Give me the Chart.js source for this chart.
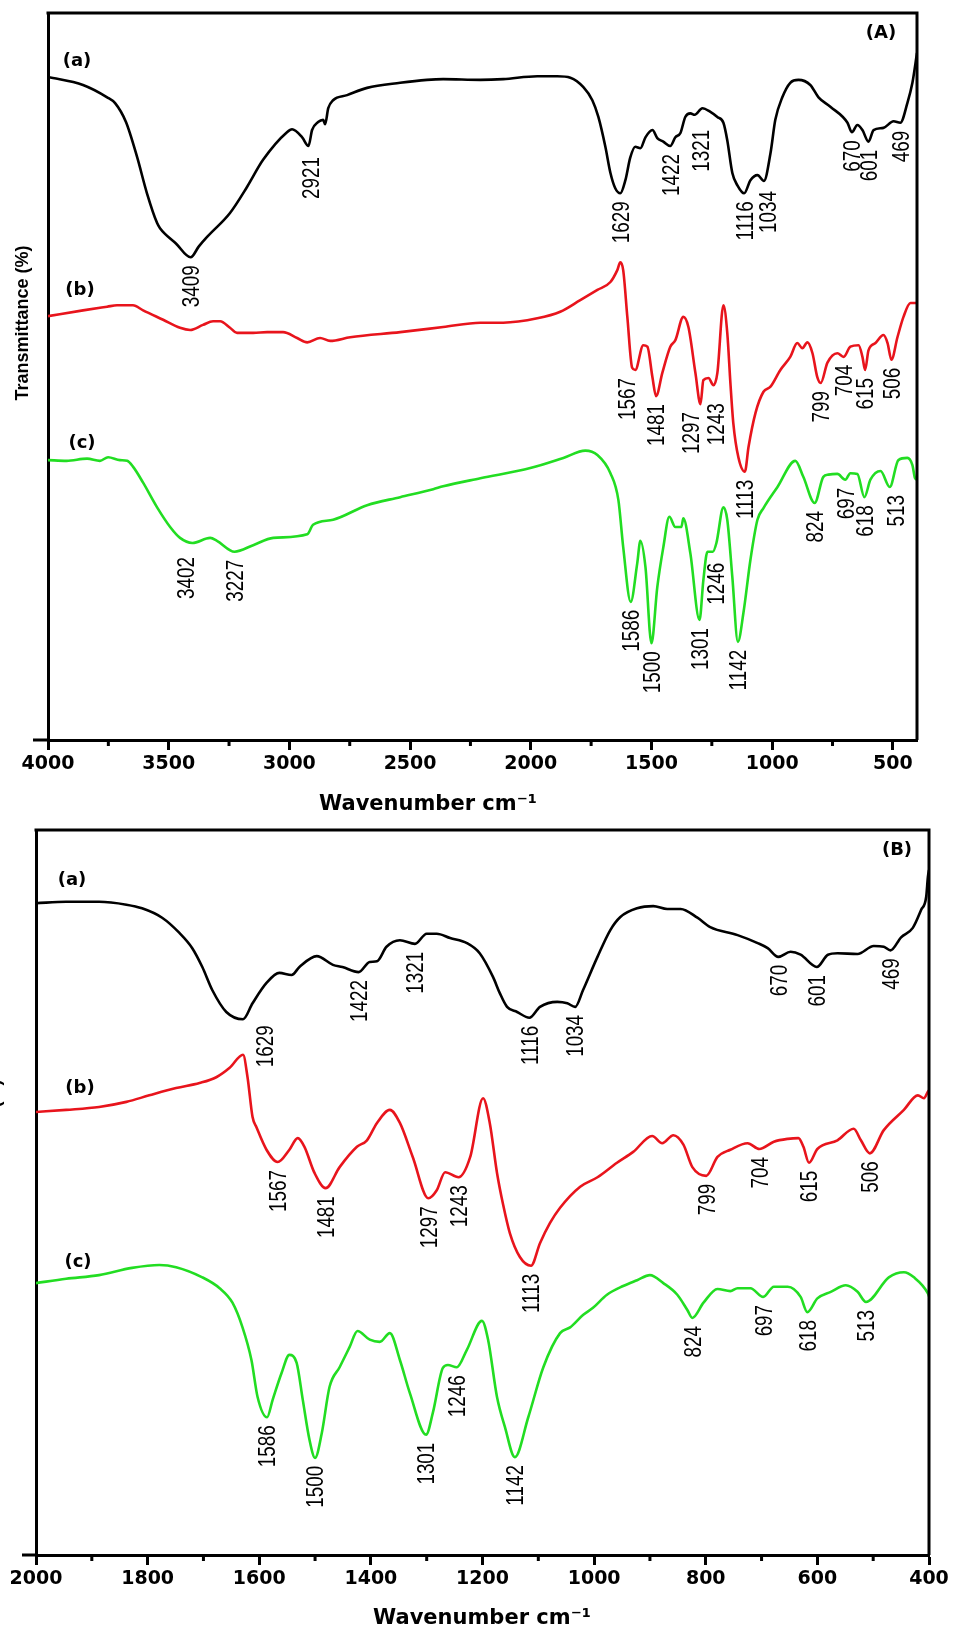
<!DOCTYPE html>
<html>
<head>
<meta charset="utf-8">
<script src="https://cdn.jsdelivr.net/npm/chart.js@4.4.1/dist/chart.umd.min.js"></script>
<style>
  html, body { margin: 0; padding: 0; background: #fff; }
  #wrap { position: relative; width: 953px; height: 1632px; overflow: hidden; }
  canvas { position: absolute; left: 0; }
</style>
</head>
<body>
<div id="wrap">
  <canvas id="fullChart" width="953" height="815" style="top:0"></canvas>
  <canvas id="fpChart" width="953" height="817" style="top:815px"></canvas>
</div>
<script>
// ---- panel A: full range 4000-400 cm-1 ----
const fullWn_a = [4000,3855,3755,3722,3677,3631,3590,3548,3536,3470,3409,3375,3341,3246,3175,3109,3010,2989,2947,2921,2906,2881,2860,2852,2839,2819,2761,2678,2541,2430,2363,2209,2114,1973,1890,1836,1782,1745,1720,1691,1670,1650,1629,1608,1588,1567,1546,1525,1496,1476,1451,1422,1401,1380,1360,1339,1321,1289,1256,1227,1202,1186,1165,1144,1116,1090,1061,1034,1007,987,958,925,891,842,808,759,688,670,647,626,601,580,539,497,469,440,419,400];
const fullT_a = [91.2,90.1,88.4,87.6,85.0,80.2,75.2,71.1,70.4,68.3,66.4,67.9,69.2,72.5,76.1,79.8,83.6,84.0,82.9,81.7,83.9,85.0,85.3,84.7,86.9,88.0,88.7,89.7,90.4,90.8,90.9,90.8,90.9,91.3,91.3,91.1,89.8,88.0,85.7,81.6,78.0,75.9,75.2,77.0,80.1,81.6,81.4,82.9,83.9,82.8,82.3,81.7,82.9,83.5,85.7,86.2,86.0,86.9,86.4,85.7,84.9,82.5,78.0,76.3,75.2,77.0,77.7,76.9,80.7,85.3,88.4,90.4,90.8,90.1,88.4,87.1,84.9,83.6,84.6,83.9,82.3,83.9,84.2,85.1,84.9,87.6,90.4,94.5];

const fullWn_b = [4000,3855,3755,3714,3648,3606,3523,3453,3411,3358,3316,3287,3246,3217,3150,3092,3026,2968,2926,2873,2831,2748,2541,2363,2209,2114,1973,1878,1795,1724,1670,1642,1629,1617,1600,1580,1567,1534,1517,1496,1481,1455,1422,1401,1368,1347,1318,1297,1285,1264,1243,1227,1202,1186,1173,1161,1140,1113,1098,1069,1036,1007,966,925,896,875,854,833,813,799,771,730,704,676,642,626,615,601,572,539,522,506,481,456,427,400];
const fullT_b = [58.3,59.1,59.6,59.8,59.8,59.1,57.8,56.7,56.4,57.1,57.6,57.6,56.7,56.0,56.0,56.1,56.1,55.3,54.7,55.3,54.9,55.4,56.1,56.8,57.4,57.4,58.0,58.9,60.5,61.9,63.0,64.6,65.7,64.6,58.2,51.2,50.9,54.3,54.1,49.9,47.3,50.5,54.1,55.0,58.2,56.8,50.5,46.2,49.5,49.8,48.8,50.5,59.8,56.0,49.1,43.6,38.9,36.9,40.3,45.0,47.9,48.6,50.9,52.7,54.6,53.9,54.7,53.2,49.9,49.1,51.9,53.2,52.7,54.1,54.3,52.7,50.9,53.6,54.6,55.7,54.6,52.3,55.4,58.2,60.1,60.1];

const fullWn_c = [4000,3923,3838,3785,3751,3702,3672,3648,3606,3548,3494,3453,3402,3328,3300,3227,3150,3067,2926,2902,2819,2678,2541,2404,2363,2209,2002,1865,1774,1724,1670,1637,1617,1586,1559,1546,1525,1500,1476,1451,1426,1401,1376,1368,1339,1301,1285,1268,1246,1231,1202,1186,1165,1142,1119,1090,1061,1036,978,904,871,824,788,767,730,697,676,647,618,593,551,513,477,440,419,408,400];
const fullT_c = [38.5,38.4,38.7,38.4,38.9,38.5,38.4,37.6,35.4,32.0,29.3,27.8,27.1,27.8,27.4,25.9,26.8,27.8,28.3,29.6,30.3,32.3,33.4,34.5,34.9,36.0,37.4,38.8,39.8,39.2,36.7,33.0,26.5,19.0,24.3,27.4,23.8,13.3,21.0,26.5,30.7,29.3,29.3,30.5,25.7,16.5,22.0,25.9,25.9,27.1,32.0,30.3,22.4,13.5,17.5,24.8,30.3,31.9,34.8,38.4,36.2,32.6,36.2,36.5,36.6,35.8,36.7,36.6,33.4,35.8,37.0,34.8,38.5,38.8,37.8,36.0,35.8];

const fullPeaks_a = [3409,2921,1629,1422,1321,1116,1034,670,601,469];
const fullPeaks_b = [1567,1481,1297,1243,1113,799,704,615,506];
const fullPeaks_c = [3402,3227,1586,1500,1301,1246,1142,824,697,618,513];
const fullTicks = [4000,3500,3000,2500,2000,1500,1000,500];

// ---- panel B: fingerprint region 2000-400 cm-1 ----
const fpWn_a = [2000,1946,1887,1838,1810,1774,1743,1720,1702,1684,1659,1629,1612,1587,1564,1542,1528,1497,1468,1451,1422,1402,1389,1372,1348,1321,1300,1282,1258,1228,1205,1181,1169,1156,1138,1116,1097,1066,1048,1034,1020,994,971,953,923,894,869,845,815,792,743,707,689,670,648,630,601,581,564,528,499,481,469,450,429,414,405,402,400];
const fpT_a = [89.9,90.1,90.1,89.7,89.2,87.9,85.8,83.7,81.1,77.9,74.9,73.9,76.1,78.9,80.3,80.0,81.1,82.6,81.4,81.1,80.4,81.8,81.9,83.9,84.8,84.3,85.7,85.7,85.1,84.4,83.0,79.7,77.5,75.6,74.9,74.1,75.6,76.3,76.1,75.6,77.9,82.5,86.2,88.0,89.2,89.5,89.1,89.1,87.9,86.6,85.5,84.4,83.7,82.5,83.2,82.8,81.1,82.8,83.0,82.9,84.0,83.9,83.4,85.2,86.5,89.0,90.8,93.5,94.5];

const fpWn_b = [2000,1946,1887,1838,1797,1749,1707,1677,1653,1629,1621,1612,1605,1587,1567,1546,1531,1519,1501,1481,1456,1425,1407,1389,1366,1348,1325,1297,1282,1267,1243,1222,1199,1187,1174,1163,1151,1133,1113,1097,1079,1061,1025,994,959,930,896,878,858,840,824,799,779,756,725,704,678,653,634,625,615,600,564,535,522,506,481,445,420,409,402,400];
const fpT_b = [61.1,61.4,61.8,62.5,63.4,64.4,65.1,65.9,67.2,69.0,65.9,60.4,59.0,55.9,54.2,55.9,57.5,56.3,52.7,50.6,53.5,56.3,57.2,59.6,61.4,59.6,54.9,49.2,50.3,52.8,52.1,54.9,63.0,59.6,52.7,48.3,44.4,41.1,39.9,43.0,45.8,47.9,50.8,52.1,54.1,55.6,57.8,56.8,57.9,56.6,53.5,52.3,54.9,55.9,56.8,56.0,57.0,57.4,57.5,56.3,54.1,56.0,57.2,58.8,57.2,55.4,58.6,61.4,63.4,63.0,63.9,64.1];

const fpWn_c = [2000,1946,1887,1828,1779,1749,1702,1671,1648,1630,1614,1603,1586,1576,1560,1546,1533,1522,1510,1500,1488,1474,1456,1438,1424,1402,1384,1366,1348,1330,1301,1289,1271,1262,1246,1228,1201,1190,1174,1160,1142,1118,1091,1061,1043,1020,1002,977,948,923,900,876,851,833,824,804,779,756,743,720,697,678,653,630,618,600,576,549,528,513,472,445,427,402,400];
const fpT_c = [37.5,38.1,38.6,39.6,40.0,39.7,38.3,36.8,34.8,31.4,26.9,21.8,19.0,21.4,25.1,27.6,26.5,21.4,15.9,13.4,16.8,23.2,25.9,28.7,30.9,29.7,29.4,30.6,26.9,22.3,16.6,19.6,25.8,26.2,25.9,28.3,32.3,29.7,21.8,17.7,13.5,19.0,25.9,30.6,31.4,33.1,34.1,35.9,37.1,37.9,38.6,37.5,35.9,33.8,32.7,34.8,36.7,36.4,36.8,36.8,35.6,37.0,37.0,35.6,33.5,35.4,36.3,37.2,36.3,34.9,38.3,39.0,38.3,36.1,35.7];

const fpPeaks_a = [1629,1422,1321,1116,1034,670,601,469];
const fpPeaks_b = [1567,1481,1297,1243,1113,799,704,615,506];
const fpPeaks_c = [1586,1500,1301,1246,1142,824,697,618,513];
const fpTicks = [2000,1800,1600,1400,1200,1000,800,600,400];

const seriesNames = ['(a)', '(b)', '(c)'];
const colors = ['#000000', '#e8141c', '#22dd22'];

const pairs = (xs, ys) => xs.map((x, i) => ({ x: x, y: ys[i] }));

// draws the frame, minor ticks, titles, curve tags and rotated peak labels
const decor = {
  id: 'decor',
  afterDatasetsDraw(chart, args, o) {
    const { ctx, chartArea: a } = chart;
    const xs = chart.scales.x;
    ctx.save();
    ctx.strokeStyle = '#000';
    ctx.lineWidth = 3;
    ctx.beginPath();
    ctx.moveTo(a.left - 1.5, a.top);
    ctx.lineTo(a.right, a.top);
    ctx.lineTo(a.right, a.bottom);
    ctx.moveTo(a.left - o.axisExt, a.bottom);
    ctx.lineTo(a.left, a.bottom);
    // minor ticks halfway between the labelled ones
    for (let i = 0; i < o.ticks.length - 1; i++) {
      const px = xs.getPixelForValue((o.ticks[i] + o.ticks[i + 1]) / 2);
      ctx.moveTo(px, a.bottom);
      ctx.lineTo(px, a.bottom + 6);
    }
    ctx.stroke();

    ctx.fillStyle = '#000';
    ctx.textAlign = 'center';
    ctx.textBaseline = 'middle';
    ctx.font = 'bold 21px "DejaVu Sans"';
    ctx.fillText('Wavenumber cm\u207B\u00B9', o.xTitle[0], o.xTitle[1]);

    ctx.save();
    ctx.translate(o.yTitle[0], o.yTitle[1]);
    ctx.rotate(-Math.PI / 2);
    ctx.font = 'bold 18px "Liberation Sans"';
    ctx.fillText('Transmittance (%)', 0, 0);
    ctx.restore();

    ctx.font = 'bold 18px "DejaVu Sans"';
    ctx.fillText(o.panel, o.panelPos[0], o.panelPos[1]);
    o.tagPos.forEach((p, i) => ctx.fillText(seriesNames[i], p[0], p[1]));

    // peak positions, written bottom-to-top under each band
    ctx.font = '23px "Liberation Sans"';
    ctx.textAlign = 'right';
    o.peaks.forEach((list, ds) => {
      const data = chart.data.datasets[ds].data;
      const meta = chart.getDatasetMeta(ds);
      list.forEach(wn => {
        const el = meta.data[data.findIndex(d => d.x === wn)];
        const nd = o.nudge['abc'[ds] + wn] || [2, 0];
        ctx.save();
        ctx.translate(el.x + nd[0], el.y + 8 + nd[1]);
        ctx.rotate(-Math.PI / 2);
        ctx.scale(0.82, 1);
        ctx.fillText(String(wn), 0, 0);
        ctx.restore();
      });
    });
    ctx.restore();
  }
};

function makeChart(id, cfg) {
  return new Chart(document.getElementById(id), {
    type: 'line',
    data: {
      datasets: cfg.series.map((s, i) => ({
        data: pairs(s[0], s[1]),
        borderColor: colors[i],
        borderWidth: 2.6,
        pointRadius: 0,
        fill: false,
        cubicInterpolationMode: 'monotone'
      }))
    },
    options: {
      responsive: false,
      animation: false,
      devicePixelRatio: 1,
      layout: { padding: cfg.padding },
      plugins: { legend: { display: false }, tooltip: { enabled: false }, decor: cfg.decor },
      scales: {
        x: {
          type: 'linear',
          reverse: true,
          min: cfg.min,
          max: cfg.max,
          afterBuildTicks: s => { s.ticks = cfg.ticks.map(v => ({ value: v })); },
          afterFit: s => { s.height = cfg.xHeight; },
          border: { display: true, color: '#000', width: 3 },
          grid: { drawOnChartArea: false, drawTicks: true, tickLength: 10, tickWidth: 3, tickColor: '#000' },
          ticks: {
            color: '#000',
            padding: 3,
            maxRotation: 0,
            autoSkip: false,
            callback: v => String(v),
            font: { family: 'DejaVu Sans', weight: 'bold', size: 19 }
          }
        },
        y: {
          min: 0,
          max: 100,
          afterFit: s => { s.width = 0; },
          border: { display: true, color: '#000', width: 3 },
          grid: { display: false, drawTicks: false },
          ticks: { display: false }
        }
      }
    },
    plugins: [decor]
  });
}

makeChart('fullChart', {
  series: [[fullWn_a, fullT_a], [fullWn_b, fullT_b], [fullWn_c, fullT_c]],
  min: 400, max: 4000, ticks: fullTicks,
  padding: { left: 48, top: 13, right: 36, bottom: 0 },
  xHeight: 75,
  decor: {
    ticks: fullTicks,
    axisExt: 15,
    xTitle: [428, 805],
    yTitle: [23, 323],
    panel: '(A)', panelPos: [881, 33],
    tagPos: [[77, 61], [80, 290], [82, 443]],
    peaks: [fullPeaks_a, fullPeaks_b, fullPeaks_c],
    nudge: { a1321: [8, 7], a1034: [6, 2], a2921: [4, 3], b1567: [-7, 0], b1297: [-8, 0], b1243: [4, 10], c3402: [-5, 6], c513: [8, 0], c1246: [5, 3] }
  }
});

makeChart('fpChart', {
  series: [[fpWn_a, fpT_a], [fpWn_b, fpT_b], [fpWn_c, fpT_c]],
  min: 400, max: 2000, ticks: fpTicks,
  padding: { left: 36, top: 15, right: 24, bottom: 0 },
  xHeight: 77,
  decor: {
    ticks: fpTicks,
    axisExt: 14,
    xTitle: [482, 804],
    yTitle: [-5, 342],
    panel: '(B)', panelPos: [897, 35],
    tagPos: [[72, 65], [80, 273], [78, 447]],
    peaks: [fpPeaks_a, fpPeaks_b, fpPeaks_c],
    nudge: { a1629: [24, -2] }
  }
});
</script>
</body>
</html>
